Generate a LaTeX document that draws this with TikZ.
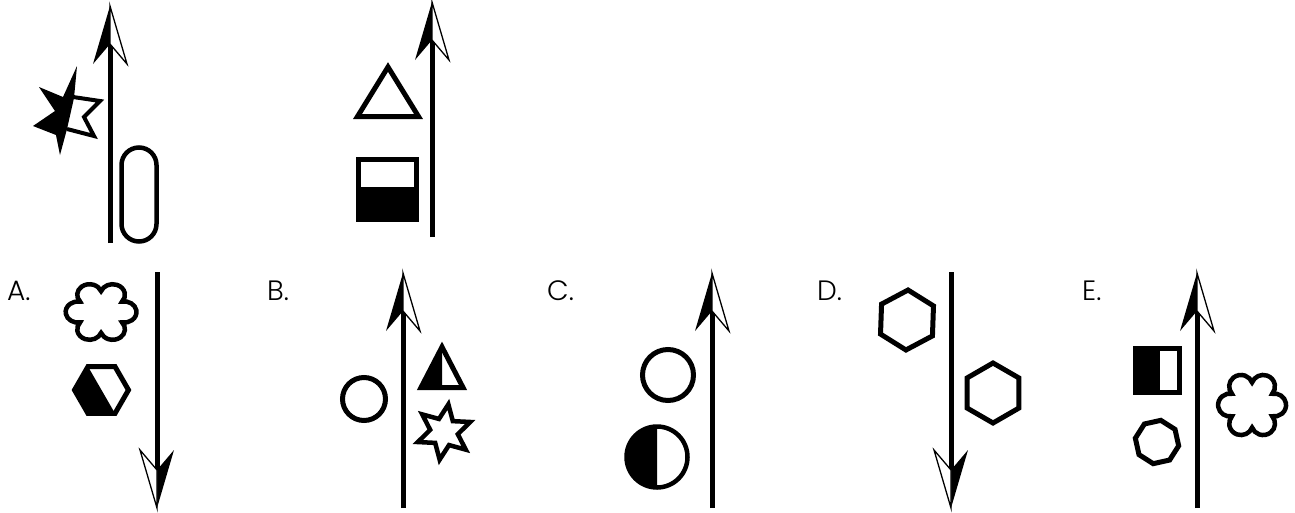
\documentclass[tikz,border=0pt]{standalone}
\usepackage{fontspec}
\setmainfont{Poppins Light}

\tikzset{
  shaft/.style={line width=5pt},
  outl/.style={line width=5pt, line join=miter},
  lbl/.style={anchor=base west, inner sep=0pt, font=\fontsize{28}{32}\selectfont},
  pics/headup/.style={code={
    \fill (0,0) -- (-17,58) -- (0,38) -- cycle;
    \draw[line width=1.3pt, line join=miter, fill=white] (0,0) -- (0,38) -- (17,58) -- cycle;
  }},
  pics/flower/.style={code={
    \draw[line width=4.5pt, fill=white] (21.06,-12.11)
      \foreach \a in {0,60,...,300} { arc[start angle=\a-100, end angle=\a+100, radius=12.3] } -- cycle;
  }},
}

\begin{document}
\begin{tikzpicture}[x=1pt, y=-1pt]
    \useasboundingbox (0,0) rectangle (1295,512);

    % first picture of the row
    \coordinate (p1n) at (110,44);
    \coordinate (p1e) at (110,243);
    \draw[shaft] (p1e) -- (p1n);
    \pic at (110,6) {headup};
    \draw[line width=4pt, line join=miter, fill=white] (73,97) -- (100,101) -- (84,117) -- (94,136) -- (67,129);
    \fill (77,66) -- (74,98) -- (67,129) -- (60,155) -- (56,135) -- (33,126) -- (55,111) -- (39,87) -- (63,97) -- cycle;
    \draw[line width=4.5pt, rounded corners=17.5pt] (121.5,147.5) rectangle (156.5,241.5);

    % second picture of the row
    \coordinate (p2n) at (432,40);
    \coordinate (p2e) at (432,237);
    \draw[shaft] (p2e) -- (p2n);
    \pic at (432,2) {headup};
    \draw[outl] (388,67) -- (418.5,116.5) -- (357.5,116.5) -- cycle;
    \fill (356,187) rectangle (419,222);
    \draw[outl] (358.5,159.5) rectangle (416.5,219.5);

    % answer A
    \node[lbl] (labA) at (7,300) {A.};
    \coordinate (aS) at (157,272);
    \coordinate (aN) at (157,470);
    \draw[shaft] (aS) -- (aN);
    \pic[rotate=180] at (157,508) {headup};
    \pic[yscale=0.86] at (101,312) {flower};
    \fill (88,366.6) -- (74.5,390) -- (88,413.4) -- (115,413.4) -- cycle;
    \draw[outl] (128.5,390) -- (115,366.6) -- (88,366.6) -- (74.5,390) -- (88,413.4) -- (115,413.4) -- cycle;

    % answer B
    \node[lbl] (labB) at (267,300) {B.};
    \coordinate (bN) at (403,311);
    \coordinate (bS) at (403,508);
    \draw[shaft] (bS) -- (bN);
    \pic at (403,273) {headup};
    \draw[outl] (364,399) circle[radius=21.5];
    \fill (442,347) -- (421,387.5) -- (442,387.5) -- cycle;
    \draw[outl] (442,347) -- (463,387.5) -- (421,387.5) -- cycle;
    \draw[line width=4.5pt, line join=miter, shift={(444,432)}] (-81:28) -- (-111:14) -- (-141:28) -- (-171:14) -- (-201:28) -- (-231:14)
        -- (-261:28) -- (-291:14) -- (-321:28) -- (-351:14) -- (-381:28) -- (-411:14) -- cycle;

    % answer C
    \node[lbl] (labC) at (547,300) {C.};
    \coordinate (cN) at (712,311);
    \coordinate (cS) at (712,508);
    \draw[shaft] (cS) -- (cN);
    \pic at (712,273) {headup};
    \draw[outl] (668,375) circle[radius=25.5];
    \fill (657,488) arc[start angle=90, end angle=270, radius=31] -- cycle;
    \draw[line width=4.5pt] (657,457) circle[radius=30.5];

    % answer D
    \node[lbl] (labD) at (817,300) {D.};
    \coordinate (dS) at (951,272);
    \coordinate (dN) at (951,470);
    \draw[shaft] (dS) -- (dN);
    \pic[rotate=180] at (951,508) {headup};
    \draw[outl, shift={(907,320)}] (-88:30) -- (-148:30) -- (-208:30) -- (-268:30) -- (-328:30) -- (-388:30) -- cycle;
    \draw[outl, shift={(993,393)}] (-90:30) -- (-150:30) -- (-210:30) -- (-270:30) -- (-330:30) -- (-390:30) -- cycle;

    % answer E
    \node[lbl] (labE) at (1082,300) {E.};
    \coordinate (eN) at (1197,311);
    \coordinate (eS) at (1197,508);
    \draw[shaft] (eS) -- (eN);
    \pic at (1197,273) {headup};
    \fill (1133,346) rectangle (1160,395);
    \draw[outl] (1135.5,348.5) rectangle (1179.5,392.5);
    \draw[outl, shift={(1157,442)}] (10:22) -- (55:22) -- (100:22) -- (145:22) -- (190:22) -- (235:22) -- (280:22) -- (325:22) -- cycle;
    \pic[xscale=0.96, yscale=0.93] at (1252,405) {flower};
\end{tikzpicture}
\end{document}
